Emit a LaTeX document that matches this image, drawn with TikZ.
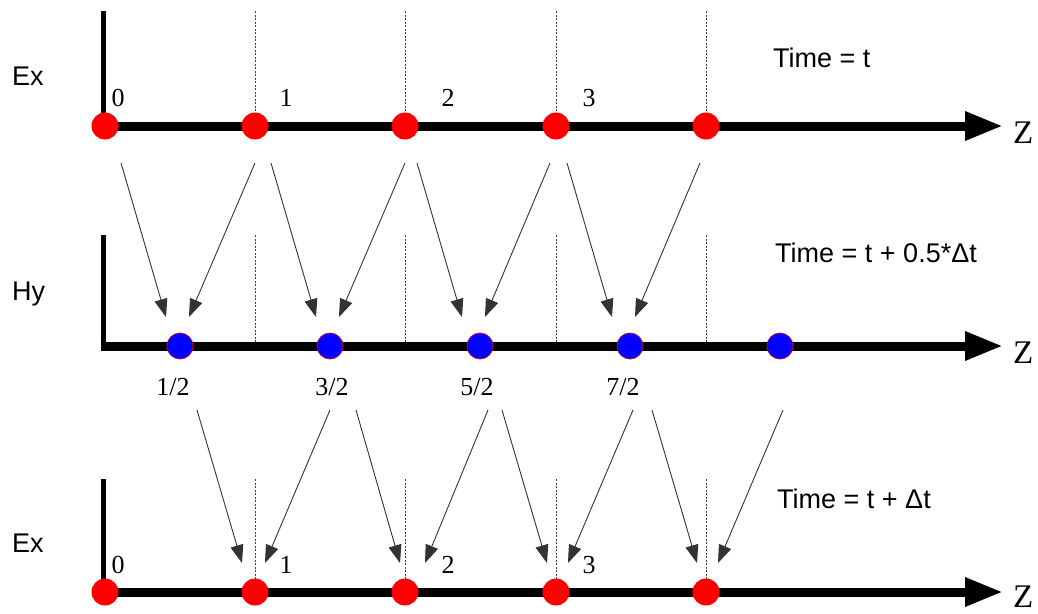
\documentclass[tikz,border=0pt]{standalone}
\usepackage{fontspec}
\setmainfont{Liberation Serif}
\setsansfont{Liberation Sans}
\usetikzlibrary{arrows.meta,calc}

\begin{document}
\begin{tikzpicture}[
  x=1pt,y=-1pt,
  zaxis/.style={line width=9pt,-{Triangle[length=38pt,width=27pt]}},
  yaxis/.style={line width=5pt},
  guide/.style={draw=black!75,line width=0.8pt,dash pattern=on 2pt off 1.5pt},
  edot/.style={circle,fill=red,inner sep=0pt,minimum size=27pt},
  hdot/.style={circle,fill=blue,draw=purple,line width=0.8pt,inner sep=0pt,minimum size=26pt},
  flux/.style={draw=black!80,line width=0.9pt,-{Triangle[length=18pt,width=13pt]}},
  rowname/.style={font=\sffamily\fontsize{27}{32}\selectfont,inner sep=0pt,anchor=base west},
  num/.style={font=\fontsize{26}{30}\selectfont,inner sep=0pt,anchor=base},
  zlab/.style={font=\fontsize{33}{38}\selectfont,inner sep=0pt,anchor=base west}
]
\useasboundingbox (0,0) rectangle (1038,613);

% Ex at time t
\draw[guide] (255,11) -- (255,113) (405,11) -- (405,113) (556,11) -- (556,113) (706,11) -- (706,113);
\draw[yaxis] (103,11) -- (103,128);
\draw[zaxis] (100.5,126) -- (1003,126);
\node[edot] (a0) at (105,126) {};
\node[edot] (a1) at (255,126) {};
\node[edot] (a2) at (405,126) {};
\node[edot] (a3) at (556,126) {};
\node[edot] (a4) at (706,126) {};
\node[num] (na0) at (118,106) {0};
\node[num] (na1) at (286,106) {1};
\node[num] (na2) at (448,106) {2};
\node[num] (na3) at (589,106) {3};
\node[rowname] (ex1) at (12,85) {Ex};
\node[rowname] (time1) at (773,67) {Time = t};
\node[zlab] (z1) at (1013,143) {Z};

% Hy at time t + dt/2
\draw[guide] (255,235) -- (255,346) (405,235) -- (405,346) (556,235) -- (556,346) (706,235) -- (706,346);
\draw[yaxis] (103,235) -- (103,348);
\draw[zaxis] (100.5,346) -- (1003,346);
\node[hdot] (b0) at (180,346) {};
\node[hdot] (b1) at (330,346) {};
\node[hdot] (b2) at (480,346) {};
\node[hdot] (b3) at (630,346) {};
\node[hdot] (b4) at (780,346) {};
\node[num] (nb0) at (173,395) {1/2};
\node[num] (nb1) at (332,395) {3/2};
\node[num] (nb2) at (477,395) {5/2};
\node[num] (nb3) at (623,395) {7/2};
\node[rowname] (hy) at (12,300) {Hy};
\node[rowname] (time2) at (775,262) {Time = t + 0.5*Δt};
\node[zlab] (z2) at (1013,363) {Z};

% Ex at time t + dt
\draw[guide] (255,479) -- (255,579) (405,479) -- (405,579) (556,479) -- (556,579) (706,479) -- (706,579);
\draw[yaxis] (103,479) -- (103,594);
\draw[zaxis] (100.5,592) -- (1003,592);
\node[edot] (c0) at (105,592) {};
\node[edot] (c1) at (255,592) {};
\node[edot] (c2) at (405,592) {};
\node[edot] (c3) at (556,592) {};
\node[edot] (c4) at (706,592) {};
\node[num] (nc0) at (118,573) {0};
\node[num] (nc1) at (286,573) {1};
\node[num] (nc2) at (448,573) {2};
\node[num] (nc3) at (589,573) {3};
\node[rowname] (ex2) at (12,552) {Ex};
\node[rowname] (time3) at (777,508) {Time = t + Δt};
\node[zlab] (z3) at (1013,607) {Z};

% update arrows
\draw[flux] ($(a0)+(16,37)$) -- ($(b0)+(-14,-29)$);
\draw[flux] ($(a1)+(0,37)$) -- ($(b0)+(9,-29)$);
\draw[flux] ($(a1)+(16,37)$) -- ($(b1)+(-14,-29)$);
\draw[flux] ($(a2)+(0,37)$) -- ($(b1)+(9,-29)$);
\draw[flux] ($(a2)+(12,37)$) -- ($(b2)+(-18,-29)$);
\draw[flux] ($(a3)+(-6,37)$) -- ($(b2)+(5,-29)$);
\draw[flux] ($(a3)+(11,37)$) -- ($(b3)+(-18,-29)$);
\draw[flux] ($(a4)+(-6,37)$) -- ($(b3)+(5,-29)$);

\draw[flux] ($(b0)+(17,64)$) -- ($(c1)+(-13,-29)$);
\draw[flux] ($(b1)+(0,64)$) -- ($(c1)+(10,-29)$);
\draw[flux] ($(b1)+(26,64)$) -- ($(c2)+(-5,-29)$);
\draw[flux] ($(b2)+(8,64)$) -- ($(c2)+(20,-29)$);
\draw[flux] ($(b2)+(22,64)$) -- ($(c3)+(-9,-29)$);
\draw[flux] ($(b3)+(3,64)$) -- ($(c3)+(12,-29)$);
\draw[flux] ($(b3)+(22,64)$) -- ($(c4)+(-9,-29)$);
\draw[flux] ($(b4)+(3,64)$) -- ($(c4)+(12,-29)$);

\end{tikzpicture}
\end{document}
